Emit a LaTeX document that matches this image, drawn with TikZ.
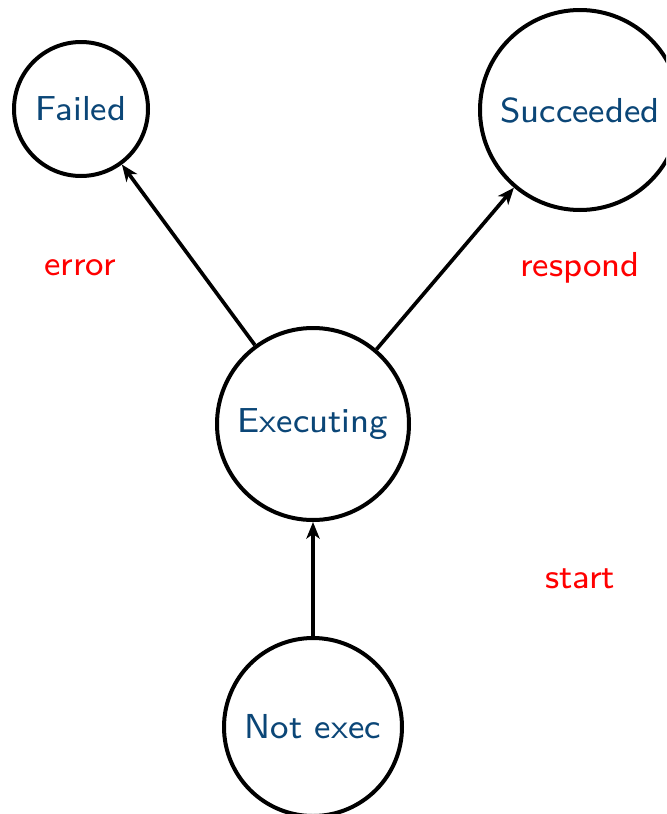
\documentclass[tikz,border=0pt]{standalone}
\usepackage{graphicx}
\usetikzlibrary{arrows.meta}
\definecolor{statetext}{HTML}{0B4677}
% small optical size of the sans font, enlarged
\newcommand{\bigsmallsans}[1]{\scalebox{1.3}{\sffamily\fontsize{8}{10}\selectfont #1}}
\tikzset{
  state/.style={circle, draw=black, line width=1.2pt, inner sep=0pt, text=statetext},
  trans/.style={line width=1.1pt, -{Stealth[length=5pt, width=4pt, inset=1.4pt]}},
  tlabel/.style={text=red}
}
\begin{document}
\begin{tikzpicture}[x=0.3pt, y=-0.3pt]
  \useasboundingbox (0,0) rectangle (666,814);
  \clip (0,0) rectangle (666,814);
  % states
  \node[state, minimum size=40.2pt] (failed) at (81,109) {\bigsmallsans{Failed}};
  \node[state, minimum size=60pt] (succ) at (580,110) {\bigsmallsans{Succeeded}};
  \node[state, minimum size=57.6pt] (exec) at (313,424) {\bigsmallsans{Executing}};
  \node[state, minimum size=53.4pt] (notexec) at (313,727) {\bigsmallsans{Not exec}};
  % transitions
  \draw[trans] (exec) -- (failed);
  \draw[trans] (exec) -- (succ);
  \draw[trans] (notexec) -- (exec);
  % transition labels
  \node[tlabel] (lerror) at (80,268) {\bigsmallsans{error}};
  \node[tlabel] (lrespond) at (580,268) {\bigsmallsans{respond}};
  \node[tlabel] (lstart) at (580,579) {\bigsmallsans{start}};
\end{tikzpicture}
\end{document}
